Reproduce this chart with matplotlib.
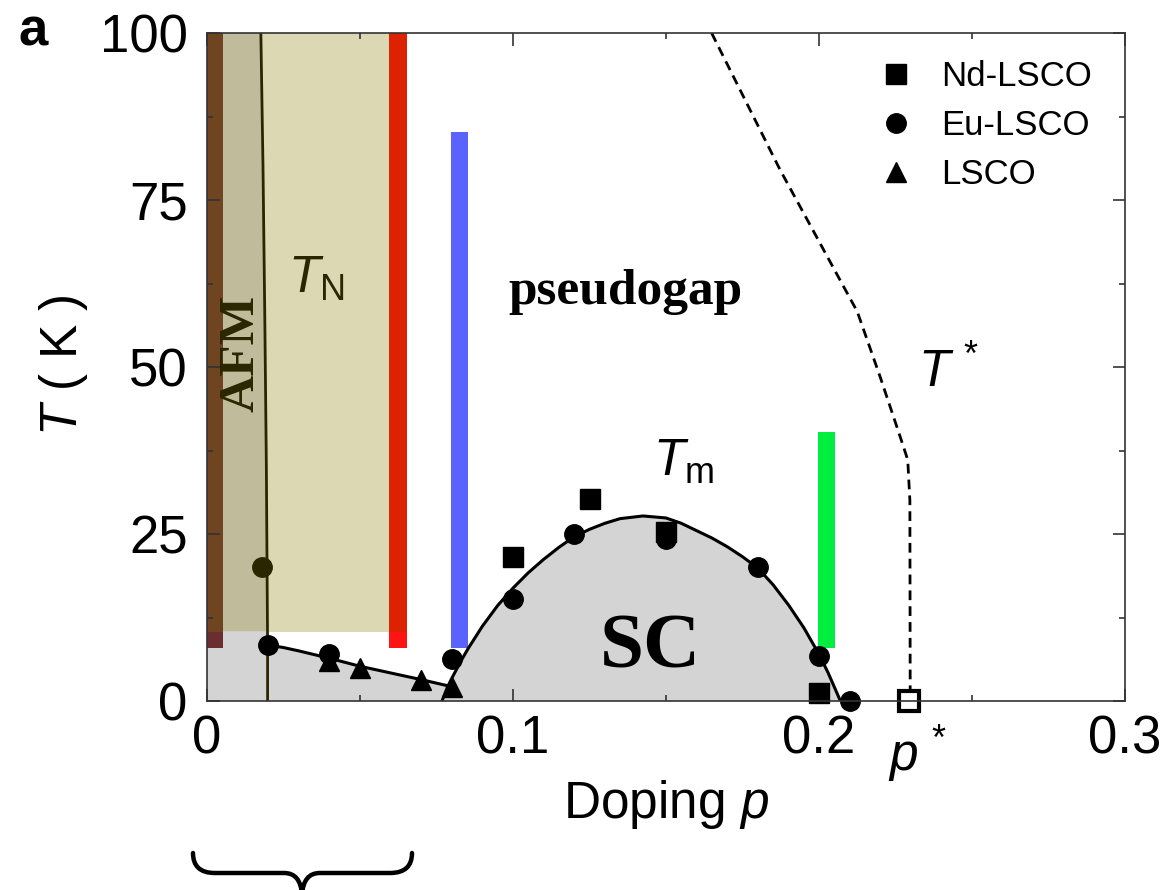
import numpy as np
import matplotlib
matplotlib.use('Agg')
import matplotlib.pyplot as plt
from matplotlib.patches import Rectangle, PathPatch
from matplotlib.path import Path

plt.rcParams['font.family'] = ['Liberation Sans', 'DejaVu Sans']
plt.rcParams['mathtext.fontset'] = 'custom'
plt.rcParams['mathtext.rm'] = 'Liberation Sans'
plt.rcParams['mathtext.it'] = 'Liberation Sans:italic'

# данные
nd_p = [0.100, 0.125, 0.150, 0.200]
nd_T = [21.5, 30.3, 25.3, 1.2]

eu_p = [0.020, 0.040, 0.080, 0.100, 0.120, 0.150, 0.180, 0.200, 0.210]
eu_T = [8.4, 7.0, 6.3, 15.2, 25.0, 24.2, 20.1, 6.8, 0.0]
eu_afm_p = [0.018]
eu_afm_T = [20.0]

lsco_p = [0.040, 0.050, 0.070, 0.080]
lsco_T = [6.0, 5.0, 3.2, 2.1]

# линия T_N (почти вертикальная)
tn_p = [0.0176, 0.0183, 0.0189, 0.0194, 0.0197, 0.0198, 0.0198]
tn_T = [100, 80, 57, 35, 15, 8.4, 0]

# линия при малом допировании
low_p = [0.0198, 0.025, 0.030, 0.040, 0.050, 0.060, 0.070, 0.0785]
low_T = [8.4, 8.0, 7.5, 6.4, 5.2, 4.2, 3.2, 2.3]

# купол сверхпроводимости
dome_p = [0.0768, 0.0785, 0.080, 0.083, 0.0854, 0.090, 0.095, 0.100, 0.105,
          0.110, 0.115, 0.120, 0.125, 0.130, 0.135, 0.1425, 0.150, 0.155,
          0.160, 0.165, 0.170, 0.175, 0.180, 0.185, 0.190, 0.195, 0.200,
          0.203, 0.207]
dome_T = [0.0, 2.0, 3.4, 6.0, 7.9, 11.2, 14.3, 16.9, 19.2,
          21.2, 23.0, 24.6, 25.7, 26.6, 27.3, 27.7, 27.4, 26.6,
          25.5, 24.4, 23.1, 21.6, 19.9, 17.4, 14.4, 11.0, 7.0,
          4.2, 0.0]

# T* (пунктир)
tstar_p = [0.1649, 0.1873, 0.2069, 0.2125, 0.2200, 0.2265, 0.2290, 0.2297, 0.2298]
tstar_T = [100, 79.5, 63.0, 58.3, 48.5, 39.6, 36.1, 30.0, 1.5]
pstar = 0.2295

# вертикальные полосы
bar_p = [0.0625, 0.0825, 0.2024]
bar_w = [0.0058, 0.0056, 0.0056]
bar_bottom = [10.4, 8.0, 8.0]
bar_top = [100, 85.2, 40.2]
bar_colors = ['#DD2200', '#5B63FF', '#00EE40']

afm_edge = 0.0051
khaki_bottom = 10.4

fig = plt.figure(figsize=(11.65, 8.9), dpi=100)
ax = fig.add_axes([207/1165, 1-701/890, 918/1165, 668/890])
ax.set_xlim(0, 0.3)
ax.set_ylim(0, 100)

olive = '#2A2600'

# фоновые области
ax.add_patch(Rectangle((0, khaki_bottom), bar_p[0] - bar_w[0]/2, 100 - khaki_bottom,
                       facecolor='#DCD8B3', edgecolor='none', zorder=0))
afm_x = [afm_edge, tn_p[0], tn_p[1], tn_p[2], tn_p[3], 0.0196, afm_edge]
afm_y = [100, 100, 80, 57, 35, khaki_bottom, khaki_bottom]
ax.fill(afm_x, afm_y, color='#C0BB9A', lw=0, zorder=0.5)

grey_x = [0, 0, low_p[0]] + low_p + [p for p in dome_p if p >= 0.080]
grey_y = [0, khaki_bottom, khaki_bottom] + low_T + [t for p, t in zip(dome_p, dome_T) if p >= 0.080]
ax.fill(grey_x, grey_y, color='#D4D4D4', lw=0, zorder=0.6)

# коричневая полоса
ax.add_patch(Rectangle((0, khaki_bottom), afm_edge, 100 - khaki_bottom,
                       facecolor='#6E4421', edgecolor='none', zorder=1))
ax.add_patch(Rectangle((0, 8.0), afm_edge, khaki_bottom - 8.0,
                       facecolor='#6B2E30', edgecolor='none', zorder=1))

# цветные полосы
ax.bar(bar_p, np.array(bar_top) - np.array(bar_bottom), bottom=bar_bottom,
       width=bar_w, color=bar_colors, zorder=1)
ax.bar([bar_p[0]], [khaki_bottom - 8.0], bottom=[8.0], width=[bar_w[0]],
       color='#FF1414', zorder=1)

# линии
ax.plot(tn_p, tn_T, color=olive, lw=2.0, zorder=2)
ax.plot(low_p, low_T, color='black', lw=2.2, zorder=2)
ax.plot(dome_p, dome_T, color='black', lw=2.2, zorder=2)
ax.plot(tstar_p, tstar_T, color='black', lw=2.0, ls=(0, (3.5, 2.2)), zorder=2)

# точки
ms = 14
ax.plot(lsco_p, lsco_T, '^', color='black', ms=ms, label='LSCO', zorder=3, clip_on=False)
ax.plot(eu_p, eu_T, 'o', color='black', ms=ms, label='Eu-LSCO', zorder=4, clip_on=False)
ax.plot(eu_afm_p, eu_afm_T, 'o', color=olive, ms=ms, zorder=4)
ax.plot(nd_p, nd_T, 's', color='black', ms=ms, label='Nd-LSCO', zorder=5, clip_on=False)
ax.plot([pstar], [0], 's', mfc='white', mec='black', mew=3, ms=15, zorder=6, clip_on=False)

h, l = ax.get_legend_handles_labels()
ax.legend(h[::-1], l[::-1], loc='upper left', bbox_to_anchor=(0.735, 0.96),
          frameon=False, fontsize=25, handlelength=0.8, handletextpad=0.9,
          labelspacing=0.47, borderpad=0, borderaxespad=0)

# подписи
ax.text(0.1366, 59.5, 'pseudogap', family='Liberation Serif', weight='bold',
        fontsize=37, ha='center', va='baseline')
ax.text(0.1448, 5.0, 'SC', family='Liberation Serif', weight='bold', fontsize=57,
        ha='center', va='baseline')
ax.text(0.0113, 52.1, 'AFM', family='Liberation Serif', weight='bold', fontsize=37,
        color=olive, rotation=90, ha='center', va='center')
ax.text(0.0265, 61.2, r'$T_{\mathrm{N}}$', fontsize=37, color=olive, ha='left', va='baseline')
ax.text(0.1458, 33.8, r'$T_{\mathrm{m}}$', fontsize=37, ha='left', va='baseline')
ax.text(0.2324, 47.0, r'$T^{\,*}$', fontsize=37, ha='left', va='baseline')
ax.text(0.2225, -10.5, r'$p^{\,*}$', fontsize=37, ha='left', va='baseline', clip_on=False)

fig.text(563/1165, 1-818/890, r'Doping $p$', fontsize=37, ha='left', va='baseline')
fig.text(63/1165, 1-365/890, r'$T$ ( K )', fontsize=37, rotation=90, ha='center', va='center')
fig.text(18/1165, 1-45/890, 'a', fontsize=38, weight='bold', ha='left', va='baseline')

# оси и деления
ax.set_xticks([0, 0.1, 0.2, 0.3])
ax.set_xticklabels(['0', '0.1', '0.2', '0.3'])
ax.set_xticks([0.05, 0.15, 0.25], minor=True)
ax.set_yticks([0, 25, 50, 75, 100])
ax.set_yticks([12.5, 37.5, 62.5, 87.5], minor=True)
ax.tick_params(which='both', direction='in', top=True, right=True, color='#333333', width=1.2)
ax.tick_params(which='major', length=9, labelsize=38)
ax.tick_params(which='minor', length=4.5)
ax.tick_params(axis='x', pad=10)
ax.tick_params(axis='y', pad=14)
for s in ax.spines.values():
    s.set_color('#333333')
    s.set_linewidth(1.2)
    s.set_zorder(7)

# фигурная скобка снизу
def px(x, y):
    return (x/1165, 1 - y/890)

verts = [px(193, 853), px(193, 866), px(200, 873), px(215, 873),
         px(284, 873), px(295, 873), px(301, 880), px(302, 895),
         px(412, 853), px(412, 866), px(405, 873), px(390, 873),
         px(320, 873), px(309, 873), px(303, 880), px(302, 895)]
codes = [Path.MOVETO, Path.CURVE4, Path.CURVE4, Path.CURVE4,
         Path.LINETO, Path.CURVE4, Path.CURVE4, Path.CURVE4] * 2
brace = PathPatch(Path(verts, codes), transform=fig.transFigure, fill=False,
                  lw=3.2, edgecolor='black', capstyle='round')
fig.add_artist(brace)

plt.savefig('out.png', dpi=100)
